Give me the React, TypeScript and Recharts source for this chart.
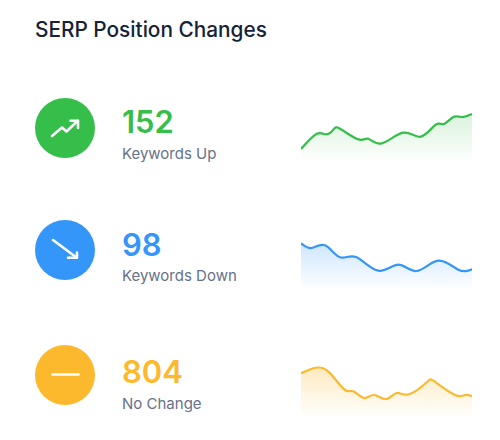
import React from "react";
import { AreaChart, Area, XAxis, YAxis } from "recharts";

const upX = [0, 15.7, 25, 32.3, 39, 57.3, 67.3, 80.7, 102.3, 119.7, 134.7, 143, 152.3, 160.7, 171];
const upY = [14, 29.3, 28.6, 33.3, 34.3, 23.6, 24.3, 19.6, 30.3, 26.3, 38.3, 39, 46, 46, 49];
const downX = [0, 10.7, 24, 39, 55, 77.3, 97.3, 115.7, 137.3, 157.3, 171];
const downY = [46.7, 42, 44.7, 32.7, 33, 19.3, 25.3, 19, 29.3, 20.3, 20.7];
const flatX = [0, 12.3, 21.3, 30.7, 44, 52.3, 63, 73, 85, 95.7, 108, 125.7, 134, 154, 164, 171];
const flatY = [44.7, 49.7, 50, 43, 28, 26.7, 20, 23, 19, 25, 23.7, 35.7, 36.3, 23, 23, 21.7];

const FONT = "Inter, 'Noto Sans', sans-serif";

type RowProps = {
  id: string;
  color: string;
  fillOpacity: number;
  value: string;
  label: string;
  cy: number;
  valueTop: number;
  labelTop: number;
  chartTop: number;
  xs: number[];
  ys: number[];
  icon: React.ReactNode;
};

function Row({ id, color, fillOpacity, value, label, cy, valueTop, labelTop, chartTop, xs, ys, icon }: RowProps) {
  const data = xs.map((x, i) => ({ x, y: ys[i] }));
  return (
    <>
      <svg width={60} height={60} style={{ position: "absolute", left: 35, top: cy - 30 }}>
        <circle cx={30} cy={30} r={30} fill={color} />
        {icon}
      </svg>
      <div style={{ position: "absolute", left: 122, top: valueTop, fontSize: 31, lineHeight: "38px", fontWeight: 600, color }}>
        {value}
      </div>
      <div style={{ position: "absolute", left: 122, top: labelTop, fontSize: 15, lineHeight: "18px", color: "#667189" }}>
        {label}
      </div>
      <div style={{ position: "absolute", left: 301, top: chartTop }}>
        <AreaChart width={171} height={60} data={data} margin={{ top: 0, right: 0, bottom: 0, left: 0 }}>
          <defs>
            <linearGradient id={id} x1="0" y1="0" x2="0" y2="1">
              <stop offset="0%" stopColor={color} stopOpacity={fillOpacity} />
              <stop offset="100%" stopColor={color} stopOpacity={0} />
            </linearGradient>
          </defs>
          <XAxis dataKey="x" type="number" domain={[0, 171]} hide />
          <YAxis type="number" domain={[0, 60]} hide />
          <Area
            type="natural"
            dataKey="y"
            stroke={color}
            strokeWidth={2.2}
            fill={`url(#${id})`}
            dot={false}
            activeDot={false}
            isAnimationActive={false}
          />
        </AreaChart>
      </div>
    </>
  );
}

const iconStroke = { fill: "none", stroke: "#fff", strokeWidth: 2.6, strokeLinecap: "round", strokeLinejoin: "round" } as const;

export default function App() {
  return (
    <div style={{ position: "absolute", left: 0, top: 0, width: 500, height: 440, background: "#fff", fontFamily: FONT, overflow: "hidden" }}>
      <div style={{ position: "absolute", left: 35, top: 17, fontSize: 20.8, lineHeight: "26px", fontWeight: 500, color: "#152238", whiteSpace: "nowrap" }}>
        SERP Position Changes
      </div>
      <Row
        id="gradUp"
        color="#35be49"
        fillOpacity={0.32}
        value="152"
        label="Keywords Up"
        cy={128}
        valueTop={103}
        labelTop={145}
        chartTop={103.3}
        xs={upX}
        ys={upY}
        icon={
          <g {...iconStroke}>
            <path d="M17 38 L27 29.5 L31.5 33.5 L42.5 23" />
            <path d="M35.5 22.8 L43 22.8 L43 30" />
          </g>
        }
      />
      <Row
        id="gradDown"
        color="#3596fa"
        fillOpacity={0.4}
        value="98"
        label="Keywords Down"
        cy={249.5}
        valueTop={226}
        labelTop={267}
        chartTop={230}
        xs={downX}
        ys={downY}
        icon={
          <g {...iconStroke}>
            <path d="M18 20 L41.5 37.5" />
            <path d="M33 37.8 L42 37.8 L42 32.5" />
          </g>
        }
      />
      <Row
        id="gradFlat"
        color="#fdb92e"
        fillOpacity={0.5}
        value="804"
        label="No Change"
        cy={375}
        valueTop={353}
        labelTop={395}
        chartTop={358}
        xs={flatX}
        ys={flatY}
        icon={<path d="M17.5 29.5 L43.5 29.5" {...iconStroke} />}
      />
    </div>
  );
}
